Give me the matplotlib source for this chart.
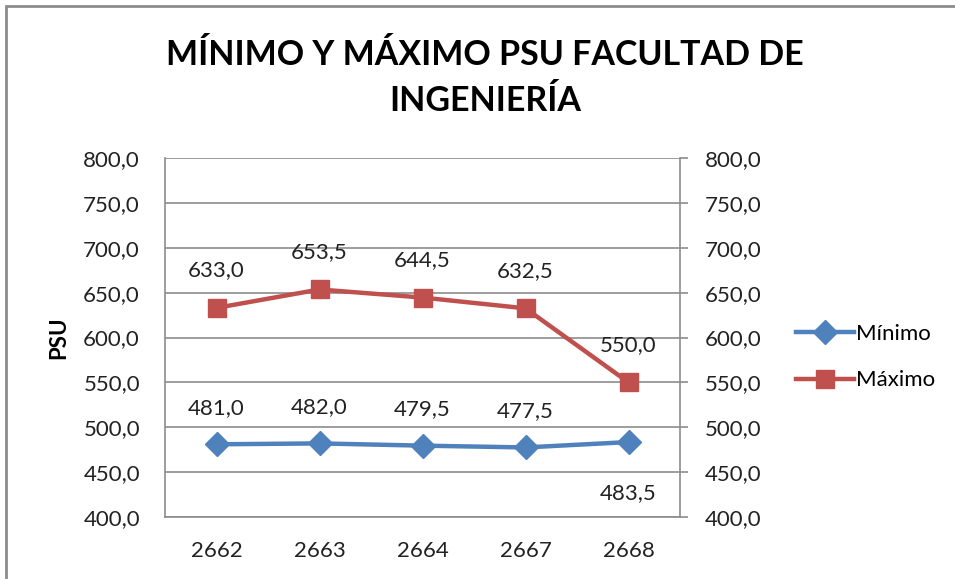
import matplotlib.pyplot as plt
from matplotlib.patches import Rectangle
from matplotlib.ticker import FuncFormatter

plt.rcParams['font.family'] = ['Lato', 'DejaVu Sans']

categories = ['2662', '2663', '2664', '2667', '2668']
minimo = [481.0, 482.0, 479.5, 477.5, 483.5]
maximo = [633.0, 653.5, 644.5, 632.5, 550.0]
yticks = [400, 450, 500, 550, 600, 650, 700, 750, 800]

blue = '#4F81BD'
red = '#C0504D'
grid = '#8C8C8C'


def coma(v, pos=None):
    return '{:.1f}'.format(v).replace('.', ',')


fig = plt.figure(figsize=(9.55, 5.79), dpi=100)
ax = fig.add_axes([165 / 955, 1 - 517 / 579, 515 / 955, 359 / 579])

x = list(range(len(categories)))
ax.plot(x, minimo, color=blue, lw=3.2, marker='D', ms=12, label='Mínimo')
ax.plot(x, maximo, color=red, lw=3.2, marker='s', ms=13, label='Máximo')

# etiquetas de datos
for i, v in enumerate(minimo):
    if i == len(minimo) - 1:
        ax.annotate(coma(v), (i, v), xytext=(0, -37), textcoords='offset points',
                    ha='center', va='center', fontsize=16, color='#222222')
    else:
        ax.annotate(coma(v), (i, v), xytext=(0, 26), textcoords='offset points',
                    ha='center', va='center', fontsize=16, color='#222222')
for i, v in enumerate(maximo):
    ax.annotate(coma(v), (i, v), xytext=(0, 27), textcoords='offset points',
                ha='center', va='center', fontsize=16, color='#222222')

ax.set_xlim(-0.5, len(categories) - 0.5)
ax.set_ylim(400, 800)
ax.set_yticks(yticks)
ax.yaxis.set_major_formatter(FuncFormatter(coma))
ax.set_xticks(x)
ax.set_xticklabels(categories)
ax.grid(axis='y', color=grid, lw=1.2)
ax.set_axisbelow(True)
ax.tick_params(axis='both', length=0, labelsize=16, colors='#222222')
ax.tick_params(axis='x', pad=17)
ax.tick_params(axis='y', pad=18)
for s in ['top', 'right']:
    ax.spines[s].set_visible(False)
for s in ['left', 'bottom']:
    ax.spines[s].set_color(grid)
    ax.spines[s].set_linewidth(1.2)
ax.set_ylabel('PSU', fontsize=16, fontweight='bold', labelpad=10)

ax2 = ax.twinx()
ax2.set_ylim(400, 800)
ax2.set_yticks(yticks)
ax2.yaxis.set_major_formatter(FuncFormatter(coma))
ax2.tick_params(axis='y', length=6, width=1.2, color=grid, labelsize=16,
                labelcolor='#222222', pad=12)
for s in ['top', 'left', 'bottom']:
    ax2.spines[s].set_visible(False)
ax2.spines['right'].set_color(grid)
ax2.spines['right'].set_linewidth(1.2)

fig.text(485 / 955, 1 - 55 / 579, 'MÍNIMO Y MÁXIMO PSU FACULTAD DE', ha='center',
         va='center', fontsize=24.5, fontweight='bold')
fig.text(485 / 955, 1 - 101 / 579, 'INGENIERÍA', ha='center',
         va='center', fontsize=24.5, fontweight='bold')

h, l = ax.get_legend_handles_labels()
fig.legend(h, l, loc='center left', bbox_to_anchor=(785 / 955, 1 - 357 / 579),
           frameon=False, fontsize=16, handlelength=2.6, handletextpad=0.1,
           labelspacing=1.2, borderpad=0)

# marco del grafico
fig.patches.append(Rectangle((6 / 955, -0.1), 1.2, 1.1 - 6 / 579, transform=fig.transFigure,
                             fill=False, edgecolor='#8C8C8C', lw=2))

fig.savefig('out.png', dpi=100)
